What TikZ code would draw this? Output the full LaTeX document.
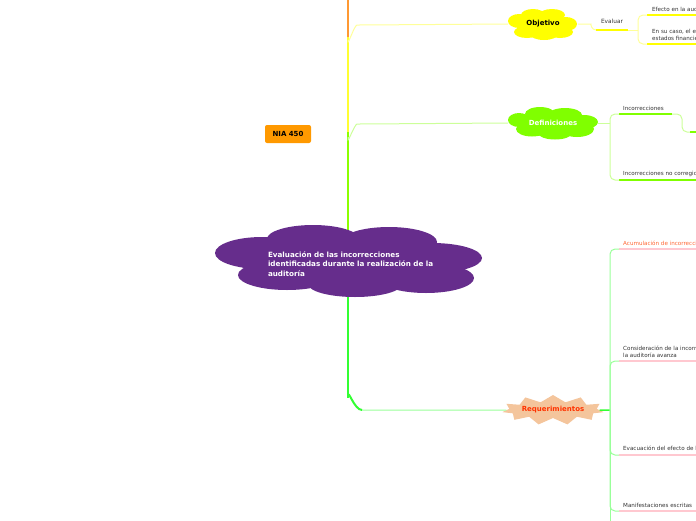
\documentclass[tikz,border=0pt]{standalone}
\usepackage{fontspec}
\setmainfont{DejaVu Sans}
\usetikzlibrary{shapes.symbols}

\definecolor{rootpurple}{HTML}{662D8C}
\definecolor{niaorange}{HTML}{FF9900}
\definecolor{objyellow}{HTML}{FFFF00}
\definecolor{deflime}{HTML}{80FF00}
\definecolor{reqpeach}{HTML}{F4C59C}
\definecolor{reqred}{HTML}{FF3300}
\definecolor{acumred}{HTML}{FF6633}
\definecolor{leafgray}{HTML}{333333}
\definecolor{trunkorange}{HTML}{FF9933}
\definecolor{trunkyellow}{HTML}{FFFF33}
\definecolor{trunklime}{HTML}{8CFF00}
\definecolor{trunkgreen}{HTML}{33FF33}
\definecolor{objlink}{HTML}{FFFF99}
\definecolor{deflink}{HTML}{CCFF99}
\definecolor{reqlink}{HTML}{99FF99}
\definecolor{reqpink}{HTML}{FFC8D0}

\begin{document}
\begin{tikzpicture}[x=1pt,y=-1pt,
    leaf/.style={font=\fontsize{5.6}{7}\selectfont, text=leafgray, anchor=south west, inner sep=0pt, align=left},
    title/.style={font=\fontsize{7}{8}\selectfont\bfseries},
    trunk/.style={line width=2.5pt},
    link/.style={line width=1pt, rounded corners=5pt},
    uline/.style={line width=2.5pt}]
  \useasboundingbox (0,0) rectangle (696,520);
  \clip (0,0) rectangle (696,520);

  % trunk (behind the clouds)
  \coordinate (up) at (348,-20);
  \draw[trunk, trunkorange] (348,37) -- (up);
  \draw[trunk, trunkyellow] (348,132) -- (348,37);
  \draw[trunk, trunklime] (348,260) -- (348,132);
  \draw[trunk, trunkgreen] (348,260) -- (348,398);

  % cloud puffs
  \begin{scope}[shift={(348,261)}, rootpurple]
    \fill (-86,-8) ellipse (47pt and 16pt);
    \fill (-35,-22) ellipse (46pt and 14pt);
    \fill (41,-19) ellipse (48pt and 15pt);
    \fill (84,-3) ellipse (50pt and 15pt);
    \fill (78,17) ellipse (48pt and 15pt);
    \fill (7,23) ellipse (47pt and 13pt);
    \fill (-61,14) ellipse (49pt and 15pt);
    \fill (0,0) ellipse (110pt and 22pt);
  \end{scope}
  \begin{scope}[shift={(543,24)}, objyellow]
    \fill (-10,-9) ellipse (12pt and 6pt);
    \fill (9,-9) ellipse (13pt and 6pt);
    \fill (-24,-3) ellipse (11pt and 7pt);
    \fill (23,0) ellipse (11pt and 7pt);
    \fill (-16,8) ellipse (13pt and 6pt);
    \fill (1,10) ellipse (14pt and 6pt);
    \fill (17,8) ellipse (13pt and 6pt);
    \fill (0,0) ellipse (25pt and 11pt);
  \end{scope}
  \begin{scope}[shift={(553,123)}, deflime]
    \fill (-13,-9) ellipse (15pt and 7pt);
    \fill (12,-8) ellipse (17pt and 7pt);
    \fill (-34,-3) ellipse (11pt and 7pt);
    \fill (31,-1) ellipse (14pt and 7pt);
    \fill (-21,6) ellipse (16pt and 7.5pt);
    \fill (2,10) ellipse (17pt and 6.5pt);
    \fill (24,6) ellipse (17pt and 8pt);
    \fill (0,0) ellipse (33pt and 11pt);
  \end{scope}

  % main topics
  \node[minimum width=268pt, minimum height=72pt, text width=180pt, align=left, text=white,
        font=\fontsize{7.2}{9.6}\selectfont\bfseries]
        (root) at (358,264) {Evaluación de las incorrecciones\\identificadas durante la realización de la\\auditoría};
  \node[rounded corners=2pt, fill=niaorange, minimum width=46pt, minimum height=18pt, title] (nia) at (288,134) {NIA 450};

  \node[minimum width=70pt, minimum height=32pt, title] (obj) at (543,24) {Objetivo};
  \node[minimum width=90pt, minimum height=32pt, title, text=white] (defi) at (553,123) {Definiciones};
  \node[starburst, starburst points=11, starburst point height=7pt, random starburst=0, fill=reqpeach,
        minimum width=90pt, minimum height=30pt, inner sep=0pt, title, text=reqred] (req) at (553,410) {Requerimientos};

  % branches
  \draw[link, objlink] (348,42) -- (348,37) to[out=-90,in=180] (362,25) -- (obj.west);
  \draw[link, deflink] (348,137) -- (348,135) to[out=-90,in=180] (362,124) -- (defi.west);
  \draw[line width=2pt, trunkgreen] (348,396) to[out=90,in=180] (362,410);
  \draw[link, reqlink] (362,410) -- (req.west);

  % Objetivo
  \node[font=\fontsize{5.8}{7}\selectfont, text=leafgray] (eval) at (612,21) {Evaluar};
  \coordinate (eval-u) at (596,30);
  \draw[link, objlink] (obj.east) -- (586,24) to[out=0,in=180] (eval-u);
  \draw[uline, objyellow] (eval-u) -- (628,30);
  \coordinate (evalfork) at (638,30);
  \draw[link, objlink] (628,30) -- (evalfork);

  \node[leaf] (efecto) at (652,12) {Efecto en la auditoría de las incorrecciones identificadas};
  \node[leaf] (ensucaso) at (652,41) {En su caso, el efecto de las incorrecciones no corregidas en los\\estados financieros};
  \coordinate (efecto-u) at (647,15);
  \coordinate (ensucaso-u) at (647,44);
  \draw[uline, objyellow] (efecto-u) -- ++(80,0);
  \draw[uline, objyellow] (ensucaso-u) -- ++(80,0);
  \draw[link, objlink] (evalfork) |- (efecto-u);
  \draw[link, objlink] (evalfork) |- (ensucaso-u);

  % Definiciones
  \coordinate (defifork) at (610,123);
  \draw[link, deflink] (defi.east) -- (defifork);
  \node[leaf] (inco) at (623,111) {Incorrecciones};
  \node[leaf] (inconc) at (623,177) {Incorrecciones no corregidas};
  \coordinate (inco-u) at (619,114);
  \coordinate (inconc-u) at (619,180);
  \draw[uline, deflime] (inco-u) -- (672,114);
  \draw[uline, deflime] (inconc-u) -- ++(100,0);
  \draw[link, deflink] (defifork) |- (inco-u);
  \draw[link, deflink] (defifork) |- (inconc-u);
  \coordinate (inco-sub) at (690,132);
  \draw[link, deflink] (672,114) -- (682,114) |- (inco-sub);
  \draw[uline, deflime] (inco-sub) -- ++(30,0);

  % Requerimientos
  \coordinate (reqfork) at (610,410);
  \coordinate (down) at (610,540);
  \draw[line width=1.5pt, trunkgreen] (req.east) -- (reqfork);
  \node[leaf, text=acumred] (acum) at (623,246) {Acumulación de incorrecciones identificadas};
  \node[leaf] (consid) at (623,358) {Consideración de la incorrección identificada a medida que\\la auditoría avanza};
  \node[leaf] (evac) at (623,452) {Evacuación del efecto de las incorrecciones no corregidas};
  \node[leaf] (manif) at (623,508) {Manifestaciones escritas};
  \foreach \n/\y in {acum/249, consid/361, evac/455, manif/511} {
    \coordinate (\n-u) at (619,\y);
    \draw[uline, reqpink] (\n-u) -- ++(100,0);
    \draw[link, reqlink] (reqfork) |- (\n-u);
  }
  \draw[link, reqlink] (reqfork) -- (down);
\end{tikzpicture}
\end{document}
